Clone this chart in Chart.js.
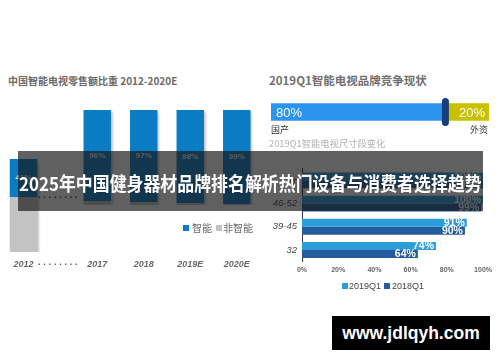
<!DOCTYPE html>
<html>
<head>
<meta charset="utf-8">
<script src="https://cdn.jsdelivr.net/npm/chart.js@4"></script>
<style>
  body { margin: 0; width: 500px; height: 362px; background: #fff; overflow: hidden; position: relative;
         font-family: "Noto Sans CJK SC", "Liberation Sans", sans-serif; }
  .abs { position: absolute; white-space: nowrap; }
  canvas { position: absolute; }
  .sq { position: absolute; width: 6px; height: 6px; }
  .dots { position: absolute; font: bold 9px "Liberation Sans", sans-serif; letter-spacing: 2.8px; line-height: 10px; }
</style>
</head>
<body>

<!-- left panel -->
<div class="abs" style="left:8px;top:75px;font-size:10px;line-height:12px;font-weight:bold;color:#6a6a6a;">中国智能电视零售额比重 2012-2020E</div>
<canvas id="share2012" width="47" height="118" style="left:0;top:159px;"></canvas>
<canvas id="shareLater" width="186" height="214" style="left:74px;top:110px;"></canvas>
<div class="dots" style="left:38px;top:190px;color:#222;">........</div>
<div class="dots" style="left:38px;top:257px;color:#555;">........</div>
<div class="sq" style="left:183px;top:225px;background:#0a7cc4;"></div>
<div class="abs" style="left:192px;top:222px;font-size:10px;line-height:12px;color:#666;">智能</div>
<div class="sq" style="left:216px;top:225px;background:#c3c3c3;"></div>
<div class="abs" style="left:223px;top:222px;font-size:10px;line-height:12px;color:#666;">非智能</div>

<!-- right panel -->
<div class="abs" style="left:269px;top:73px;font-size:11.5px;line-height:14px;font-weight:bold;color:#707070;">2019Q1智能电视品牌竞争现状</div>
<canvas id="brandChart" width="218" height="28" style="left:271px;top:98px;"></canvas>
<div class="abs" style="left:271px;top:124px;font-size:9px;line-height:12px;color:#333;">国产</div>
<div class="abs" style="left:470px;top:124px;font-size:9px;line-height:12px;color:#333;">外资</div>
<div class="abs" style="left:269px;top:137px;font-size:9.3px;line-height:12px;color:#b0b0b0;">2019Q1智能电视尺寸段变化</div>
<canvas id="sizeChart" width="228" height="120" style="left:268px;top:158px;"></canvas>
<div class="sq" style="left:342px;top:283px;background:#2d9cdb;"></div>
<div class="abs" style="left:349px;top:280px;font:9px/12px 'Liberation Sans',sans-serif;color:#444;">2019Q1</div>
<div class="sq" style="left:384px;top:283px;background:#235d9e;"></div>
<div class="abs" style="left:392px;top:280px;font:9px/12px 'Liberation Sans',sans-serif;color:#444;">2018Q1</div>

<!-- banner and watermark -->
<div class="abs" style="left:18px;top:151px;width:465px;height:60px;background:rgba(20,20,20,0.68);z-index:5;">
  <span class="abs" style="left:1px;top:22px;font-size:19px;line-height:20px;font-weight:bold;color:#fff;transform:scaleX(0.89);transform-origin:left center;">2025年中国健身器材品牌排名解析热门设备与消费者选择趋势</span>
</div>
<div class="abs" style="left:332px;top:316px;width:158px;height:34px;background:#000;z-index:6;color:#fff;font:bold 17.5px/34px 'Liberation Sans',sans-serif;text-align:center;">www.jdlqyh.com</div>

<script>
// 智能电视零售额比重
const years = ['2012', '2017', '2018', '2019E', '2020E'];
const smartShare = [41, 96, 97, 98, 99];
const nonSmartShare = [59, 4, 3, 2, 1];

// 品牌竞争
const brandNames = ['国产', '外资'];
const brandShare = [80, 20];
const brandColors = ['#2a94ee', '#c9c000'];

// 尺寸段变化
const sizeGroups = ['55+', '46-52', '39-45', '32'];
const share2019Q1 = [100, 100, 91, 74];
const share2018Q1 = [100, 99, 90, 64];
const pctTicks = [0, 20, 40, 60, 80, 100];

// value labels in the middle of the blue part
const smartLabels = {
  id: 'smartLabels',
  afterDatasetsDraw(chart) {
    const ctx = chart.ctx;
    const ds = chart.data.datasets[1];
    ctx.save();
    ctx.font = 'bold 8px "Liberation Sans"';
    ctx.fillStyle = '#e4ecf2';
    ctx.textAlign = 'center';
    ctx.textBaseline = 'middle';
    chart.getDatasetMeta(1).data.forEach((bar, i) => {
      ctx.fillText(ds.data[i] + '%', bar.x, (bar.y + bar.base) / 2);
    });
    ctx.restore();
  }
};

const barShadow = {
  id: 'barShadow',
  beforeDatasetsDraw(chart) {
    const ctx = chart.ctx;
    ctx.save();
    ctx.shadowColor = 'rgba(0,0,0,0.22)';
    ctx.shadowOffsetX = 2;
    ctx.shadowOffsetY = 2;
    ctx.shadowBlur = 2;
  },
  afterDatasetsDraw(chart) {
    chart.ctx.restore();
  }
};

function shareChart(id, from, to, pct, tickPad) {
  return new Chart(document.getElementById(id), {
    type: 'bar',
    data: {
      labels: years.slice(from, to),
      datasets: [
        { label: '非智能', data: nonSmartShare.slice(from, to), backgroundColor: '#c3c3c3' },
        { label: '智能', data: smartShare.slice(from, to), backgroundColor: '#0a7cc4' }
      ]
    },
    options: {
      responsive: false,
      animation: false,
      datasets: { bar: { categoryPercentage: pct, barPercentage: 1 } },
      layout: { padding: 0 },
      plugins: { legend: { display: false }, tooltip: { enabled: false } },
      scales: {
        x: {
          stacked: true,
          grid: { display: false, drawTicks: false },
          border: { display: false },
          ticks: { padding: tickPad, maxRotation: 0, color: '#666', font: { size: 9, style: 'italic', weight: 'bold', family: 'Liberation Sans' } },
          // keep the padding only below the bars, and don't let the layout cap the axis height
          afterFit: s => { s.paddingLeft = 0; s.paddingRight = 0; s.height = 11 + tickPad * 2; }
        },
        y: { stacked: true, display: false, min: 0, max: 100 }
      }
    },
    plugins: [barShadow, smartLabels]
  });
}

// 2012 sits lower than the other years in the original, so it gets its own small chart
shareChart('share2012', 0, 1, 0.585, 7);
shareChart('shareLater', 1, 5, 0.59, 54);

// brand bar: percentages and the dark handle at the split
const brandLabels = {
  id: 'brandLabels',
  afterDatasetsDraw(chart) {
    const ctx = chart.ctx;
    const a = chart.getDatasetMeta(0).data[0];
    const b = chart.getDatasetMeta(1).data[0];
    const area = chart.chartArea;
    ctx.save();
    ctx.font = '13px "Liberation Sans"';
    ctx.fillStyle = '#fff';
    ctx.textBaseline = 'middle';
    ctx.textAlign = 'left';
    ctx.fillText(brandShare[0] + '%', a.base + 5, a.y + 1);
    ctx.textAlign = 'right';
    ctx.fillText(brandShare[1] + '%', b.x - 4, b.y + 1);
    ctx.fillStyle = '#163e78';
    ctx.beginPath();
    if (ctx.roundRect) ctx.roundRect(a.x - 3.5, area.top, 7, area.bottom - area.top, 3.5);
    else ctx.rect(a.x - 3.5, area.top, 7, area.bottom - area.top);
    ctx.fill();
    ctx.restore();
  }
};

new Chart(document.getElementById('brandChart'), {
  type: 'bar',
  data: {
    labels: ['品牌'],
    datasets: brandNames.map((name, i) => ({
      label: name, data: [brandShare[i]], backgroundColor: brandColors[i], barThickness: 17
    }))
  },
  options: {
    indexAxis: 'y',
    responsive: false,
    animation: false,
    layout: { padding: 0 },
    plugins: { legend: { display: false }, tooltip: { enabled: false } },
    scales: {
      x: { stacked: true, display: false, min: 0, max: 100 },
      y: { stacked: true, display: false }
    }
  },
  plugins: [brandLabels]
});

// size chart labels at the bar ends
const endLabels = {
  id: 'endLabels',
  afterDatasetsDraw(chart) {
    const ctx = chart.ctx;
    ctx.save();
    ctx.font = 'bold 10.5px "Liberation Sans"';
    ctx.fillStyle = '#fff';
    ctx.textAlign = 'right';
    ctx.textBaseline = 'middle';
    chart.data.datasets.forEach((ds, d) => {
      chart.getDatasetMeta(d).data.forEach((bar, i) => {
        ctx.fillText(ds.data[i] + '%', bar.x - 2, bar.y + 0.5);
      });
    });
    ctx.restore();
  }
};

new Chart(document.getElementById('sizeChart'), {
  type: 'bar',
  data: {
    labels: sizeGroups,
    datasets: [
      { label: '2019Q1', data: share2019Q1, backgroundColor: '#2d9cdb' },
      { label: '2018Q1', data: share2018Q1, backgroundColor: '#235d9e' }
    ]
  },
  options: {
    indexAxis: 'y',
    responsive: false,
    animation: false,
    datasets: { bar: { categoryPercentage: 0.68, barPercentage: 1 } },
    layout: { padding: { right: 10 } },
    plugins: { legend: { display: false }, tooltip: { enabled: false } },
    scales: {
      x: {
        min: 0, max: 100,
        afterBuildTicks: s => { s.ticks = pctTicks.map(v => ({ value: v })); },
        grid: { display: false, drawTicks: false },
        border: { display: false },
        ticks: { padding: 4, color: '#666', font: { size: 7, weight: 'bold', family: 'Liberation Sans' }, callback: v => v + '%' }
      },
      y: {
        grid: { display: false, drawTicks: false },
        border: { display: true, color: '#333', width: 1 },
        ticks: { padding: 5, color: '#444', font: { size: 9.5, style: 'italic', family: 'Liberation Sans' } },
        afterFit: s => { s.width = 34; }
      }
    }
  },
  plugins: [endLabels]
});
</script>
</body>
</html>
